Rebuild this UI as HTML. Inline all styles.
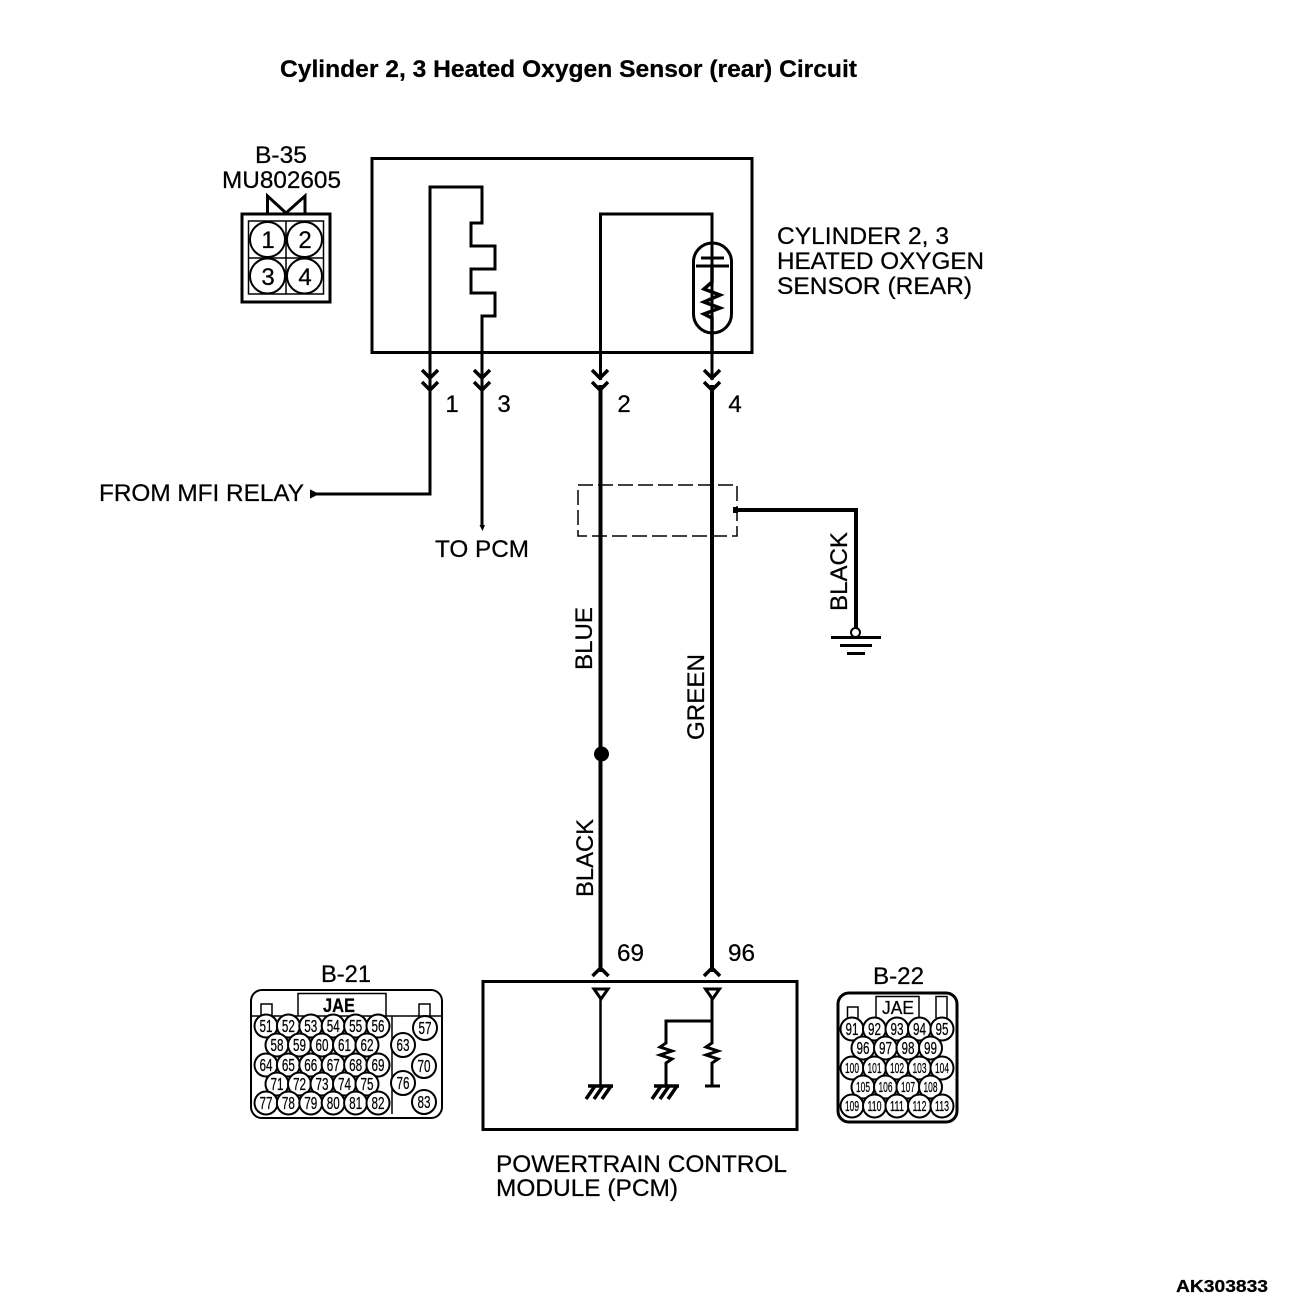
<!DOCTYPE html>
<html><head><meta charset="utf-8"><style>
html,body{margin:0;padding:0;background:#fff}
svg{display:block}
text{font-family:"Liberation Sans",sans-serif;fill:#000;stroke:#000;stroke-width:.25px}
.l{font-size:24px}
.b{font-size:24px;font-weight:bold}
.n{font-size:17.5px;text-anchor:middle}
.m{font-size:14.5px;text-anchor:middle}
.p{font-size:24px;text-anchor:middle}
.s{fill:none;stroke:#000;stroke-width:3;stroke-linejoin:miter}
.h{fill:none;stroke:#000;stroke-width:3.5}
.w{fill:none;stroke:#000;stroke-width:4}
.t{fill:none;stroke:#000;stroke-width:1.5}
.c{fill:#fff;stroke:#000;stroke-width:2}
</style></head><body>
<svg width="1312" height="1312" viewBox="0 0 1312 1312" xmlns="http://www.w3.org/2000/svg">
<rect width="1312" height="1312" fill="#fff"/>
<text class="b" x="280" y="77" textLength="577" lengthAdjust="spacingAndGlyphs">Cylinder 2, 3 Heated Oxygen Sensor (rear) Circuit</text>
<text class="b" x="1176" y="1292" style="font-size:17.5px" textLength="92" lengthAdjust="spacingAndGlyphs">AK303833</text>

<!-- B-35 -->
<text class="l" x="255" y="163" textLength="52" lengthAdjust="spacingAndGlyphs">B-35</text>
<text class="l" x="222" y="188" textLength="119" lengthAdjust="spacingAndGlyphs">MU802605</text>
<path class="s" d="M267.500 213V196L286 213L305 196V213"/>
<rect class="s" x="242" y="214" width="88" height="88"/>
<rect class="t" x="248.500" y="221" width="75" height="73"/>
<path class="t" d="M286 221V294M248 258H324"/>
<circle class="c" cx="267.500" cy="239.500" r="17.500"/><circle class="c" cx="304.500" cy="239.500" r="17.500"/>
<circle class="c" cx="267.500" cy="276" r="17.500"/><circle class="c" cx="304.500" cy="276" r="17.500"/>
<text class="p" x="268" y="248">1</text><text class="p" x="305" y="248">2</text>
<text class="p" x="268" y="285">3</text><text class="p" x="305" y="285">4</text>

<!-- Sensor box -->
<rect class="s" x="372" y="158.500" width="380" height="194"/>
<path class="s" d="M430 380V187H482V223H471V246H495V269H471V293H495V316H482V380"/>
<path class="s" d="M600.500 380V214H712V380"/>
<path class="s" d="M693.500 262a19 19 0 0 1 38 0V314a19 19 0 0 1 -38 0Z" style="stroke-width:3"/>
<path class="s" d="M701 258H724M696 266H729"/>
<path class="h" d="M712 268V282L704 289L720 295L704 302L720 308L704 314L712 318V352"/>

<!-- Chevrons -->
<path class="h" d="M422 370L430 378L438 370M422 382L430 390L438 382"/>
<path class="h" d="M474 370L482 378L490 370M474 382L482 390L490 382"/>
<path class="h" d="M592 370L600 378L608 370M592 382L600 390L608 382"/>
<path class="h" d="M704 370L712 378L720 370M704 382L712 390L720 382"/>

<text class="p" x="452" y="412">1</text>
<text class="p" x="504" y="412">3</text>
<text class="p" x="624" y="412">2</text>
<text class="p" x="735" y="412">4</text>

<!-- Wires -->
<path class="s" d="M430 380V494H314"/>
<path class="s" d="M311 491V497L317 494Z" style="stroke-width:2;fill:#000"/>
<path class="s" d="M482 380V527"/>
<path d="M479.500 525H485L482.500 531Z" fill="#000"/>
<path class="w" d="M600.500 385V972"/>
<path class="w" d="M712 385V972"/>
<circle cx="601.500" cy="754" r="7.500" fill="#000"/>

<rect x="578" y="485" width="159" height="51" fill="none" stroke="#000" stroke-width="1.500" stroke-dasharray="15 5"/>
<path class="w" d="M735 510H856V628"/>
<rect x="733" y="507" width="5" height="6" fill="#000"/>
<circle cx="855.500" cy="632.500" r="4.500" fill="#fff" stroke="#000" stroke-width="2"/>
<path class="s" d="M831 637.500H881M840 645.500H872M847 653.500H865"/>

<text class="l" x="99" y="501" textLength="205" lengthAdjust="spacingAndGlyphs">FROM MFI RELAY</text>
<text class="l" x="435" y="557" textLength="94" lengthAdjust="spacingAndGlyphs">TO PCM</text>
<text class="l" x="777" y="244" textLength="172" lengthAdjust="spacingAndGlyphs">CYLINDER 2, 3</text>
<text class="l" x="777" y="269" textLength="207" lengthAdjust="spacingAndGlyphs">HEATED OXYGEN</text>
<text class="l" x="777" y="294" textLength="195" lengthAdjust="spacingAndGlyphs">SENSOR (REAR)</text>

<text class="l" transform="translate(592 670) rotate(-90)" textLength="63" lengthAdjust="spacingAndGlyphs">BLUE</text>
<text class="l" transform="translate(593 897) rotate(-90)" textLength="78" lengthAdjust="spacingAndGlyphs">BLACK</text>
<text class="l" transform="translate(704 740) rotate(-90)" textLength="86" lengthAdjust="spacingAndGlyphs">GREEN</text>
<text class="l" transform="translate(847 611) rotate(-90)" textLength="79" lengthAdjust="spacingAndGlyphs">BLACK</text>

<text class="l" x="617" y="961" textLength="27" lengthAdjust="spacingAndGlyphs">69</text>
<text class="l" x="728" y="961" textLength="27" lengthAdjust="spacingAndGlyphs">96</text>

<!-- PCM -->
<path class="h" d="M592.500 976L600.500 968L608.500 976M704 976L712 968L720 976"/>
<rect class="s" x="483" y="981.500" width="314" height="148"/>
<path class="s" d="M594 989H608L601 999Z"/>
<path class="s" d="M705.500 989H719.500L712.500 999Z"/>
<path class="s" d="M600.500 999V1086" style="stroke-width:2.500"/>
<path class="s" d="M712 999V1043L706 1047L718 1051L706 1055L718 1059L712 1063V1086"/>
<path class="s" d="M705 1086H720"/>
<path class="s" d="M712 1021H666V1043L660 1047L672 1051L660 1055L672 1059L666 1063V1086"/>
<path class="h" d="M588 1086H613M595 1086L586 1099M603 1086L594 1099M611 1086L602 1099"/>
<path class="h" d="M654 1086H679M661 1086L652 1099M669 1086L660 1099M677 1086L668 1099"/>
<text class="l" x="496" y="1172" textLength="291" lengthAdjust="spacingAndGlyphs">POWERTRAIN CONTROL</text>
<text class="l" x="496" y="1196" textLength="182" lengthAdjust="spacingAndGlyphs">MODULE (PCM)</text>

<!-- B-21 -->
<text class="l" x="321" y="982" textLength="50" lengthAdjust="spacingAndGlyphs">B-21</text>
<rect x="251" y="990" width="191" height="128" rx="11" fill="none" stroke="#000" stroke-width="2"/>
<path class="t" d="M252 1016H441M392 1016V1114M298 1016V993.500H386V1016M261 1016V1004H272V1016M419 1016V1004H430V1016"/>
<text x="339" y="1012" style="font-size:19px;font-weight:bold;text-anchor:middle" textLength="32" lengthAdjust="spacingAndGlyphs">JAE</text>
<g>
<circle class="c" cx="266" cy="1026" r="11.500"/><text class="n" x="266" y="1032" textLength="13" lengthAdjust="spacingAndGlyphs">51</text>
<circle class="c" cx="288.400" cy="1026" r="11.500"/><text class="n" x="288.400" y="1032" textLength="13" lengthAdjust="spacingAndGlyphs">52</text>
<circle class="c" cx="310.800" cy="1026" r="11.500"/><text class="n" x="310.800" y="1032" textLength="13" lengthAdjust="spacingAndGlyphs">53</text>
<circle class="c" cx="333.200" cy="1026" r="11.500"/><text class="n" x="333.200" y="1032" textLength="13" lengthAdjust="spacingAndGlyphs">54</text>
<circle class="c" cx="355.600" cy="1026" r="11.500"/><text class="n" x="355.600" y="1032" textLength="13" lengthAdjust="spacingAndGlyphs">55</text>
<circle class="c" cx="378" cy="1026" r="11.500"/><text class="n" x="378" y="1032" textLength="13" lengthAdjust="spacingAndGlyphs">56</text>
<circle class="c" cx="277" cy="1045" r="11.500"/><text class="n" x="277" y="1051" textLength="13" lengthAdjust="spacingAndGlyphs">58</text>
<circle class="c" cx="299.500" cy="1045" r="11.500"/><text class="n" x="299.500" y="1051" textLength="13" lengthAdjust="spacingAndGlyphs">59</text>
<circle class="c" cx="322" cy="1045" r="11.500"/><text class="n" x="322" y="1051" textLength="13" lengthAdjust="spacingAndGlyphs">60</text>
<circle class="c" cx="344.500" cy="1045" r="11.500"/><text class="n" x="344.500" y="1051" textLength="13" lengthAdjust="spacingAndGlyphs">61</text>
<circle class="c" cx="367" cy="1045" r="11.500"/><text class="n" x="367" y="1051" textLength="13" lengthAdjust="spacingAndGlyphs">62</text>
<circle class="c" cx="266" cy="1065" r="11.500"/><text class="n" x="266" y="1071" textLength="13" lengthAdjust="spacingAndGlyphs">64</text>
<circle class="c" cx="288.400" cy="1065" r="11.500"/><text class="n" x="288.400" y="1071" textLength="13" lengthAdjust="spacingAndGlyphs">65</text>
<circle class="c" cx="310.800" cy="1065" r="11.500"/><text class="n" x="310.800" y="1071" textLength="13" lengthAdjust="spacingAndGlyphs">66</text>
<circle class="c" cx="333.200" cy="1065" r="11.500"/><text class="n" x="333.200" y="1071" textLength="13" lengthAdjust="spacingAndGlyphs">67</text>
<circle class="c" cx="355.600" cy="1065" r="11.500"/><text class="n" x="355.600" y="1071" textLength="13" lengthAdjust="spacingAndGlyphs">68</text>
<circle class="c" cx="378" cy="1065" r="11.500"/><text class="n" x="378" y="1071" textLength="13" lengthAdjust="spacingAndGlyphs">69</text>
<circle class="c" cx="277" cy="1084" r="11.500"/><text class="n" x="277" y="1090" textLength="13" lengthAdjust="spacingAndGlyphs">71</text>
<circle class="c" cx="299.500" cy="1084" r="11.500"/><text class="n" x="299.500" y="1090" textLength="13" lengthAdjust="spacingAndGlyphs">72</text>
<circle class="c" cx="322" cy="1084" r="11.500"/><text class="n" x="322" y="1090" textLength="13" lengthAdjust="spacingAndGlyphs">73</text>
<circle class="c" cx="344.500" cy="1084" r="11.500"/><text class="n" x="344.500" y="1090" textLength="13" lengthAdjust="spacingAndGlyphs">74</text>
<circle class="c" cx="367" cy="1084" r="11.500"/><text class="n" x="367" y="1090" textLength="13" lengthAdjust="spacingAndGlyphs">75</text>
<circle class="c" cx="266" cy="1103" r="11.500"/><text class="n" x="266" y="1109" textLength="13" lengthAdjust="spacingAndGlyphs">77</text>
<circle class="c" cx="288.400" cy="1103" r="11.500"/><text class="n" x="288.400" y="1109" textLength="13" lengthAdjust="spacingAndGlyphs">78</text>
<circle class="c" cx="310.800" cy="1103" r="11.500"/><text class="n" x="310.800" y="1109" textLength="13" lengthAdjust="spacingAndGlyphs">79</text>
<circle class="c" cx="333.200" cy="1103" r="11.500"/><text class="n" x="333.200" y="1109" textLength="13" lengthAdjust="spacingAndGlyphs">80</text>
<circle class="c" cx="355.600" cy="1103" r="11.500"/><text class="n" x="355.600" y="1109" textLength="13" lengthAdjust="spacingAndGlyphs">81</text>
<circle class="c" cx="378" cy="1103" r="11.500"/><text class="n" x="378" y="1109" textLength="13" lengthAdjust="spacingAndGlyphs">82</text>
<circle class="c" cx="425" cy="1028" r="12"/><text class="n" x="425" y="1034" textLength="13" lengthAdjust="spacingAndGlyphs">57</text>
<circle class="c" cx="403" cy="1045" r="12"/><text class="n" x="403" y="1051" textLength="13" lengthAdjust="spacingAndGlyphs">63</text>
<circle class="c" cx="424" cy="1066" r="12"/><text class="n" x="424" y="1072" textLength="13" lengthAdjust="spacingAndGlyphs">70</text>
<circle class="c" cx="403" cy="1083" r="12"/><text class="n" x="403" y="1089" textLength="13" lengthAdjust="spacingAndGlyphs">76</text>
<circle class="c" cx="424" cy="1102" r="12"/><text class="n" x="424" y="1108" textLength="13" lengthAdjust="spacingAndGlyphs">83</text>
</g>

<!-- B-22 -->
<text class="l" x="873" y="984" textLength="51" lengthAdjust="spacingAndGlyphs">B-22</text>
<rect x="838" y="993" width="119" height="129" rx="11" fill="none" stroke="#000" stroke-width="3"/>
<path class="t" d="M876 1018V996.500H919V1018M847.500 1018V1007H858V1018M936 1018V996.500H947V1018"/>
<text x="898" y="1014" style="font-size:18px;text-anchor:middle" textLength="32" lengthAdjust="spacingAndGlyphs">JAE</text>
<g>
<circle class="c" cx="852" cy="1029" r="11.500"/><text class="n" x="852" y="1035" textLength="13" lengthAdjust="spacingAndGlyphs">91</text>
<circle class="c" cx="874.500" cy="1029" r="11.500"/><text class="n" x="874.500" y="1035" textLength="13" lengthAdjust="spacingAndGlyphs">92</text>
<circle class="c" cx="897" cy="1029" r="11.500"/><text class="n" x="897" y="1035" textLength="13" lengthAdjust="spacingAndGlyphs">93</text>
<circle class="c" cx="919.500" cy="1029" r="11.500"/><text class="n" x="919.500" y="1035" textLength="13" lengthAdjust="spacingAndGlyphs">94</text>
<circle class="c" cx="942" cy="1029" r="11.500"/><text class="n" x="942" y="1035" textLength="13" lengthAdjust="spacingAndGlyphs">95</text>
<circle class="c" cx="863" cy="1048" r="11.500"/><text class="n" x="863" y="1054" textLength="13" lengthAdjust="spacingAndGlyphs">96</text>
<circle class="c" cx="885.500" cy="1048" r="11.500"/><text class="n" x="885.500" y="1054" textLength="13" lengthAdjust="spacingAndGlyphs">97</text>
<circle class="c" cx="908" cy="1048" r="11.500"/><text class="n" x="908" y="1054" textLength="13" lengthAdjust="spacingAndGlyphs">98</text>
<circle class="c" cx="930.500" cy="1048" r="11.500"/><text class="n" x="930.500" y="1054" textLength="13" lengthAdjust="spacingAndGlyphs">99</text>
<circle class="c" cx="852" cy="1068" r="11.500"/><text class="m" x="852" y="1073" textLength="14" lengthAdjust="spacingAndGlyphs">100</text>
<circle class="c" cx="874.500" cy="1068" r="11.500"/><text class="m" x="874.500" y="1073" textLength="14" lengthAdjust="spacingAndGlyphs">101</text>
<circle class="c" cx="897" cy="1068" r="11.500"/><text class="m" x="897" y="1073" textLength="14" lengthAdjust="spacingAndGlyphs">102</text>
<circle class="c" cx="919.500" cy="1068" r="11.500"/><text class="m" x="919.500" y="1073" textLength="14" lengthAdjust="spacingAndGlyphs">103</text>
<circle class="c" cx="942" cy="1068" r="11.500"/><text class="m" x="942" y="1073" textLength="14" lengthAdjust="spacingAndGlyphs">104</text>
<circle class="c" cx="863" cy="1087" r="11.500"/><text class="m" x="863" y="1092" textLength="14" lengthAdjust="spacingAndGlyphs">105</text>
<circle class="c" cx="885.500" cy="1087" r="11.500"/><text class="m" x="885.500" y="1092" textLength="14" lengthAdjust="spacingAndGlyphs">106</text>
<circle class="c" cx="908" cy="1087" r="11.500"/><text class="m" x="908" y="1092" textLength="14" lengthAdjust="spacingAndGlyphs">107</text>
<circle class="c" cx="930.500" cy="1087" r="11.500"/><text class="m" x="930.500" y="1092" textLength="14" lengthAdjust="spacingAndGlyphs">108</text>
<circle class="c" cx="852" cy="1106" r="11.500"/><text class="m" x="852" y="1111" textLength="14" lengthAdjust="spacingAndGlyphs">109</text>
<circle class="c" cx="874.500" cy="1106" r="11.500"/><text class="m" x="874.500" y="1111" textLength="14" lengthAdjust="spacingAndGlyphs">110</text>
<circle class="c" cx="897" cy="1106" r="11.500"/><text class="m" x="897" y="1111" textLength="14" lengthAdjust="spacingAndGlyphs">111</text>
<circle class="c" cx="919.500" cy="1106" r="11.500"/><text class="m" x="919.500" y="1111" textLength="14" lengthAdjust="spacingAndGlyphs">112</text>
<circle class="c" cx="942" cy="1106" r="11.500"/><text class="m" x="942" y="1111" textLength="14" lengthAdjust="spacingAndGlyphs">113</text>
</g>
</svg>
</body></html>
